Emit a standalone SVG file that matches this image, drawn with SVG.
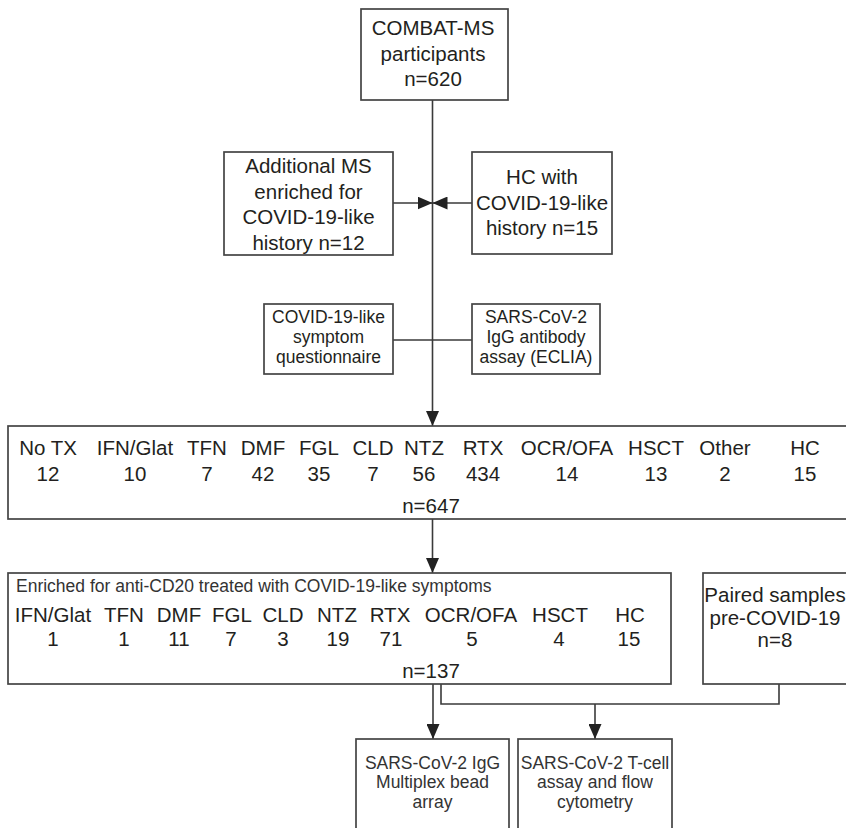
<svg xmlns="http://www.w3.org/2000/svg" width="846" height="828" viewBox="0 0 846 828">
<style>
.box{fill:#fff;stroke:#444;stroke-width:1.7}
.ln{fill:none;stroke:#3a3a3a;stroke-width:1.6}
text{font-family:"Liberation Sans",Arial,sans-serif;fill:#231f20;text-anchor:middle}
.l{font-size:20.5px}
.s{font-size:17.5px}
.st{font-size:17.5px;fill:#333}
</style>
<defs>
<marker id="ah" markerUnits="userSpaceOnUse" viewBox="0 0 15 13" refX="15" refY="6.5" markerWidth="15" markerHeight="13" orient="auto">
<path d="M0,0 L15,6.5 L0,13 Z" fill="#222"/>
</marker>
</defs>
<rect width="846" height="828" fill="#fff"/>
<g id="connectors">
<line class="ln" x1="432.5" y1="100" x2="432.5" y2="426" marker-end="url(#ah)"/>
<line class="ln" x1="393" y1="203" x2="432.5" y2="203" marker-end="url(#ah)"/>
<line class="ln" x1="472" y1="203" x2="432.5" y2="203" marker-end="url(#ah)"/>
<line class="ln" x1="393" y1="340" x2="472" y2="340"/>
<line class="ln" x1="432.5" y1="519" x2="432.5" y2="573" marker-end="url(#ah)"/>
<line class="ln" x1="433" y1="684" x2="433" y2="739" marker-end="url(#ah)"/>
<polyline class="ln" points="441,684 441,704 779,704 779,684"/>
<line class="ln" x1="595" y1="704" x2="595" y2="739" marker-end="url(#ah)"/>
</g>
<g id="combat">
<rect class="box" x="361" y="9" width="147" height="91"/>
<text class="l" x="433" y="35">COMBAT-MS</text>
<text class="l" x="433" y="60.5">participants</text>
<text class="l" x="433" y="86">n=620</text>
</g>
<g id="additional">
<rect class="box" x="224" y="152" width="169" height="103"/>
<text class="l" x="308.5" y="173">Additional MS</text>
<text class="l" x="308.5" y="198.5">enriched for</text>
<text class="l" x="308.5" y="224">COVID-19-like</text>
<text class="l" x="308.5" y="249.5">history n=12</text>
</g>
<g id="hc">
<rect class="box" x="472" y="152" width="140" height="102"/>
<text class="l" x="542" y="184">HC with</text>
<text class="l" x="542" y="209.5">COVID-19-like</text>
<text class="l" x="542" y="234.5">history n=15</text>
</g>
<g id="questionnaire">
<rect class="box" x="264" y="304" width="129" height="70"/>
<text class="s" x="328.5" y="323">COVID-19-like</text>
<text class="s" x="328.5" y="343">symptom</text>
<text class="s" x="328.5" y="363">questionnaire</text>
</g>
<g id="eclia">
<rect class="box" x="472" y="304" width="128" height="70"/>
<text class="s" x="536" y="323">SARS-CoV-2</text>
<text class="s" x="536" y="343">IgG antibody</text>
<text class="s" x="536" y="363">assay (ECLIA)</text>
</g>
<g id="cohort">
<rect class="box" x="8" y="426" width="850" height="93"/>
<g class="l">
<text x="48" y="455">No TX</text><text x="48" y="481">12</text>
<text x="135" y="455">IFN/Glat</text><text x="135" y="481">10</text>
<text x="207" y="455">TFN</text><text x="207" y="481">7</text>
<text x="263" y="455">DMF</text><text x="263" y="481">42</text>
<text x="319" y="455">FGL</text><text x="319" y="481">35</text>
<text x="373" y="455">CLD</text><text x="373" y="481">7</text>
<text x="424" y="455">NTZ</text><text x="424" y="481">56</text>
<text x="483" y="455">RTX</text><text x="483" y="481">434</text>
<text x="567" y="455">OCR/OFA</text><text x="567" y="481">14</text>
<text x="656" y="455">HSCT</text><text x="656" y="481">13</text>
<text x="725" y="455">Other</text><text x="725" y="481">2</text>
<text x="805" y="455">HC</text><text x="805" y="481">15</text>
<text x="431" y="513">n=647</text>
</g>
</g>
<g id="enriched">
<rect class="box" x="8" y="573" width="663" height="111"/>
<text class="st" x="16" y="591.5" style="text-anchor:start">Enriched for anti-CD20 treated with COVID-19-like symptoms</text>
<g class="l">
<text x="53" y="621.5">IFN/Glat</text><text x="53" y="646">1</text>
<text x="124" y="621.5">TFN</text><text x="124" y="646">1</text>
<text x="179" y="621.5">DMF</text><text x="179" y="646">11</text>
<text x="232" y="621.5">FGL</text><text x="231" y="646">7</text>
<text x="283" y="621.5">CLD</text><text x="283" y="646">3</text>
<text x="337" y="621.5">NTZ</text><text x="338" y="646">19</text>
<text x="390" y="621.5">RTX</text><text x="391" y="646">71</text>
<text x="471" y="621.5">OCR/OFA</text><text x="472" y="646">5</text>
<text x="560" y="621.5">HSCT</text><text x="559" y="646">4</text>
<text x="630" y="621.5">HC</text><text x="629" y="646">15</text>
<text x="431" y="678">n=137</text>
</g>
</g>
<g id="paired">
<rect class="box" x="703" y="573" width="150" height="111"/>
<text class="l" x="775" y="601.5">Paired samples</text>
<text class="l" x="775" y="624.5">pre-COVID-19</text>
<text class="l" x="775" y="647">n=8</text>
</g>
<g id="multiplex">
<rect class="box" x="356" y="739" width="153" height="100"/>
<text class="st" x="432.5" y="768.5">SARS-CoV-2 IgG</text>
<text class="st" x="432.5" y="788">Multiplex bead</text>
<text class="st" x="432.5" y="808">array</text>
</g>
<g id="tcell">
<rect class="box" x="518" y="739" width="154" height="100"/>
<text class="st" x="595" y="768.5">SARS-CoV-2 T-cell</text>
<text class="st" x="595" y="788">assay and flow</text>
<text class="st" x="595" y="808">cytometry</text>
</g>
</svg>
